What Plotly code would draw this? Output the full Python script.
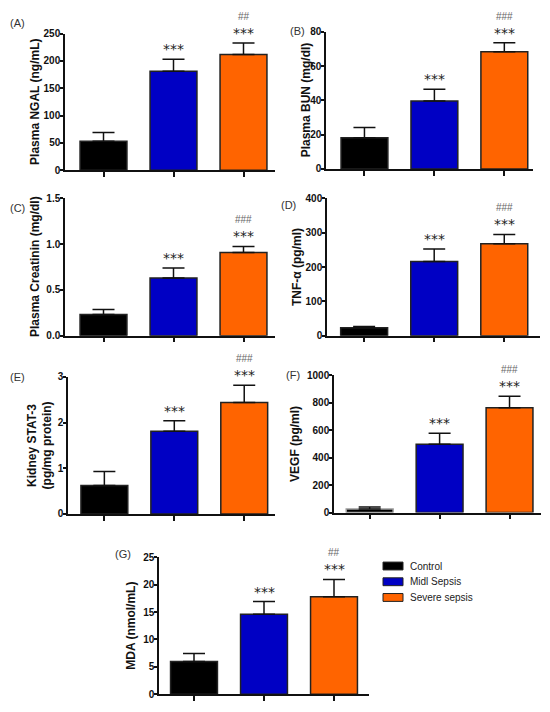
import plotly.graph_objects as go

# groups and colours
groups = ["Control", "Midl Sepsis", "Severe sepsis"]
bar_colors = ["#000000", "#0000C4", "#FF6400"]

# mean values and SEM
ngal_mean = [53, 181, 212]
ngal_sem = [16, 22, 21]
bun_mean = [18.2, 39.6, 68.3]
bun_sem = [6.0, 6.8, 5.2]
creat_mean = [0.23, 0.63, 0.91]
creat_sem = [0.055, 0.11, 0.065]
tnf_mean = [23, 216, 268]
tnf_sem = [4, 37, 27]
stat3_mean = [0.62, 1.81, 2.44]
stat3_sem = [0.31, 0.23, 0.38]
vegf_mean = [25, 498, 764]
vegf_sem = [15, 80, 83]
mda_mean = [6.0, 14.6, 17.8]
mda_sem = [1.45, 2.3, 3.15]

# significance marks
stars = ["", "***", "***"]
hash2 = ["", "", "##"]
hash3 = ["", "", "###"]

# the page body has an 8px margin, so the figure is shrunk and shifted by it
PAGE_W, PAGE_H, OFF = 550, 712, 8
W, H = PAGE_W - 2 * OFF, PAGE_H - 2 * OFF
FONT = "Liberation Sans, Arial, sans-serif"


def fx(p):
    return max(p - OFF, 0) / W


def fy(p):
    return 1 - (p - OFF) / H


# label, y title, mean, sem, hashes, y range, dtick, tickformat,
# box in px (left, right, top, bottom), x range, label pos (x, y), title x
panels = [
    ("(A)", "Plasma NGAL (ng/mL)", ngal_mean, ngal_sem, hash2, [0, 250], 50, "",
     (65, 275, 28, 167), [-0.55, 2.45], (7, 17), 35),
    ("(B)", "Plasma BUN (mg/dl)", bun_mean, bun_sem, hash3, [0, 80], 20, "",
     (326, 533, 26, 165.7), [-0.55, 2.41], (288, 25), 306),
    ("(C)", "Plasma Creatinin (mg/dl)", creat_mean, creat_sem, hash3, [0, 1.5], 0.5, ".1f",
     (65, 275, 195.7, 335.3), [-0.55, 2.45], (7, 205), 35),
    ("(D)", "TNF-α (pg/ml)", tnf_mean, tnf_sem, hash3, [0, 400], 100, "",
     (327, 540, 195.7, 335.3), [-0.53, 2.51], (279, 202), 297),
    ("(E)", "Kidney STAT-3<br>(pg/mg protein)", stat3_mean, stat3_sem, hash3, [0, 3], 1, "",
     (68, 275, 377.3, 516.7), [-0.52, 2.44], (7, 377), 40),
    ("(F)", "VEGF (pg/ml)", vegf_mean, vegf_sem, hash3, [0, 1000], 200, "",
     (334, 541, 375.7, 515.3), [-0.51, 2.45], (284, 375), 295),
    ("(G)", "MDA (nmol/mL)", mda_mean, mda_sem, hash2, [0, 25], 5, "",
     (159, 369, 560.7, 700.3), [-0.5, 2.5], (113, 557), 131),
]

fig = go.Figure()
annotations = []
shapes = []

for k, (lab, ytitle, mean, sem, hashes, yr, dt, tf, box, xr, lpos, tx) in enumerate(panels, start=1):
    sfx = "" if k == 1 else str(k)
    xa, ya = "x" + sfx, "y" + sfx
    left, right, top, bottom = box
    line_cols = ["#222222"] * 3
    if k == 6:
        line_cols[0] = "#9a9a9a"
    fig.add_trace(go.Bar(
        x=groups, y=mean, xaxis=xa, yaxis=ya, width=0.67,
        marker=dict(color=bar_colors, line=dict(color=line_cols, width=1.5)),
        error_y=dict(type="data", symmetric=False, array=sem, arrayminus=[0] * 3,
                     color="#111111", thickness=1.5, width=11),
        showlegend=False, hoverinfo="skip",
    ))
    fig.layout["xaxis" + sfx] = dict(
        domain=[fx(left), fx(right)], range=xr, anchor=ya, type="category",
        showline=True, linecolor="#111111", linewidth=1.5,
        ticks="outside", ticklen=5, tickwidth=1.5, tickcolor="#111111",
        showticklabels=False, showgrid=False, zeroline=False, fixedrange=True,
    )
    fig.layout["yaxis" + sfx] = dict(
        domain=[fy(bottom), fy(top)], range=yr, anchor=xa,
        dtick=dt, tick0=0, tickformat=tf,
        showline=True, linecolor="#111111", linewidth=1.5,
        ticks="outside", ticklen=3, tickwidth=1.5, tickcolor="#111111",
        ticklabelstandoff=-2,
        tickfont=dict(family=FONT, size=10, color="#111111", weight="bold"),
        showgrid=False, zeroline=False, fixedrange=True,
    )
    # panel label
    annotations.append(dict(
        x=fx(lpos[0]), y=fy(lpos[1]), xref="paper", yref="paper",
        xanchor="left", yanchor="middle", text=lab, showarrow=False,
        font=dict(family=FONT, size=11, color="#333333"),
    ))
    # y axis title
    annotations.append(dict(
        x=fx(tx), y=fy((top + bottom) / 2), xref="paper", yref="paper",
        xanchor="center", yanchor="middle", text=ytitle, textangle=-90,
        showarrow=False, font=dict(family=FONT, size=12, color="#111111", weight="bold"),
    ))
    # significance marks
    for i, g in enumerate(groups):
        tip = mean[i] + sem[i]
        if stars[i]:
            annotations.append(dict(
                x=g, y=tip, xref=xa, yref=ya, text=stars[i], showarrow=False,
                xanchor="center", yanchor="bottom", yshift=0,
                font=dict(family="DejaVu Sans", size=14, color="#222222"),
            ))
        if hashes[i]:
            annotations.append(dict(
                x=g, y=tip, xref=xa, yref=ya, text=hashes[i], showarrow=False,
                xanchor="center", yanchor="bottom", yshift=19,
                font=dict(family=FONT, size=10, color="#666666"),
            ))

# legend drawn next to panel G
for i, g in enumerate(groups):
    cy = 569.7 + 16 * i
    shapes.append(dict(
        type="rect", xref="paper", yref="paper",
        x0=fx(383), x1=fx(403), y0=fy(cy + 4), y1=fy(cy - 4),
        fillcolor=bar_colors[i], line=dict(color="#222222", width=1),
    ))
    annotations.append(dict(
        x=fx(408), y=fy(cy), xref="paper", yref="paper",
        xanchor="left", yanchor="middle", text=g, showarrow=False,
        font=dict(family=FONT, size=10, color="#222222"),
    ))

fig.update_layout(
    width=W, height=H, margin=dict(l=0, r=0, t=0, b=0),
    paper_bgcolor="white", plot_bgcolor="white",
    annotations=annotations, shapes=shapes,
)

fig.write_html("out.html")
